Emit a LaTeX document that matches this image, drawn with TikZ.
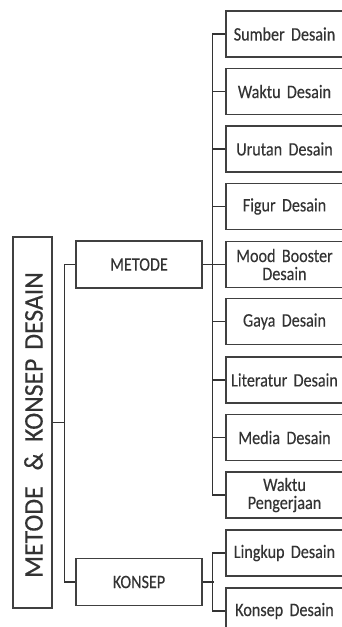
\documentclass[tikz,border=0pt]{standalone}
\usepackage{fontspec}
\setmainfont{Carlito}[FakeStretch=0.85,FakeBold=0.25]
\newfontfamily\mainlabelfont{Carlito}[FakeStretch=0.95,FakeBold=0.3]
\begin{document}
\begin{tikzpicture}[x=1pt,y=1pt,
  box/.style={draw=black!75,line width=1.2pt,fill=white,inner sep=1pt,
    text=black!80,font=\fontsize{19}{18}\selectfont,align=center},
  leaf/.style={box,minimum width=117pt,minimum height=46pt,text width=113pt},
  mid/.style={box,minimum width=126pt,minimum height=47pt},
  conn/.style={draw=black!80,line width=1.1pt}]
\useasboundingbox (0,0) rectangle (342,-627);
\node[box,minimum width=39pt,minimum height=371pt,inner sep=0pt] (main) at (32.5,-422.5) {};
\node[rotate=90,text=black!80,font=\mainlabelfont\fontsize{27}{30}\selectfont,inner sep=0pt] (maintxt) at (33.5,-425) {METODE\hspace{16pt}\&\hspace{11pt}KONSEP\hspace{9pt}DESAIN};
\node[mid] (metode) at (139,-264.5) {METODE};
\node[mid] (konsep) at (139,-582) {KONSEP};
\node[leaf] (s1) at (284.5,-34) {Sumber Desain};
\node[leaf] (s2) at (284.5,-91.5) {Waktu Desain};
\node[leaf] (s3) at (284.5,-149) {Urutan Desain};
\node[leaf] (s4) at (284.5,-206.5) {Figur Desain};
\node[leaf] (s5) at (284.5,-264.5) {Mood Booster\\Desain};
\node[leaf] (s6) at (284.5,-321.5) {Gaya Desain};
\node[leaf] (s7) at (284.5,-380) {Literatur Desain};
\node[leaf] (s8) at (284.5,-437.5) {Media Desain};
\node[leaf] (s9) at (284.5,-495) {Waktu\\Pengerjaan};
\node[leaf] (k1) at (284.5,-553) {Lingkup Desain};
\node[leaf] (k2) at (284.5,-611) {Konsep Desain};
% main connectors
\path (main.east) ++(12,0) coordinate (j1);
\draw[conn] (main.east) -- (j1);
\draw[conn] (metode.west) -| (j1) |- (konsep.west);
% metode children
\draw[conn] (s1.west) -- ++(-13,0) |- (s9.west);
\foreach \n in {s2,s3,s4,s5,s6,s7,s8} {\draw[conn] (\n.west) -- ++(-13,0);}
\draw[conn] (metode.east) -- ++(11,0);
% konsep children
\draw[conn] (k1.west) -- ++(-13,0) |- (k2.west);
\draw[conn] (konsep.east) -- ++(11,0);
\end{tikzpicture}
\end{document}
